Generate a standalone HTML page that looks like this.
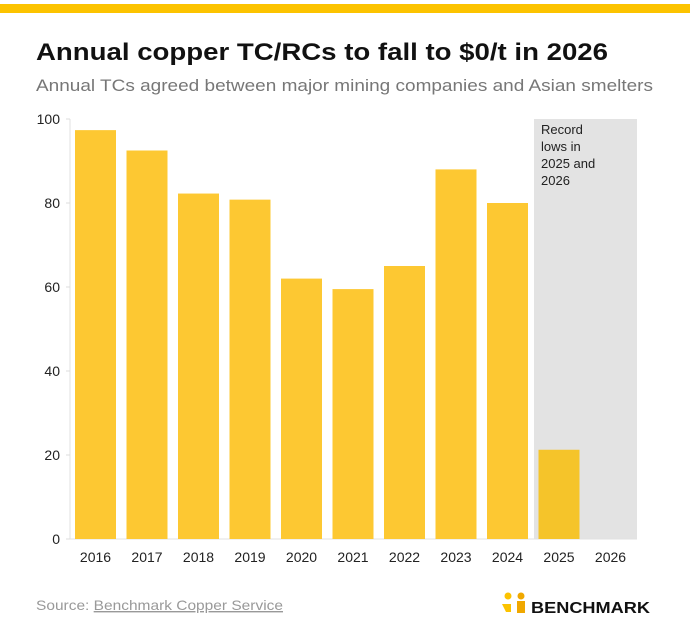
<!DOCTYPE html>
<html><head><meta charset="utf-8"><style>
body{margin:0;background:#fff;width:690px;height:637px;overflow:hidden;font-family:"Liberation Sans",sans-serif}
</style></head><body>
<svg width="690" height="637" xmlns="http://www.w3.org/2000/svg">
<rect x="0" y="4" width="690" height="9" fill="#fcc300"/>
<text x="36" y="60" font-size="24" font-weight="bold" fill="#111" textLength="572" lengthAdjust="spacingAndGlyphs">Annual copper TC/RCs to fall to $0/t in 2026</text>
<text x="36" y="91" font-size="17" fill="#777" textLength="617" lengthAdjust="spacingAndGlyphs">Annual TCs agreed between major mining companies and Asian smelters</text>
<rect x="534" y="119" width="103" height="420" fill="#e3e3e3"/>
<text font-size="13" fill="#222"><tspan x="541" y="134">Record</tspan><tspan x="541" y="151">lows in</tspan><tspan x="541" y="168">2025 and</tspan><tspan x="541" y="185">2026</tspan></text>
<line x1="70" y1="119" x2="70" y2="539" stroke="#e0e0e0"/>
<line x1="70" y1="539" x2="637" y2="539" stroke="#e0e0e0"/>
<g id="ticks"></g><g id="bars"></g><g id="xlabels"></g>
<text x="36" y="610" font-size="14" fill="#999" textLength="247" lengthAdjust="spacingAndGlyphs">Source: <tspan text-decoration="underline">Benchmark Copper Service</tspan></text>
<g>
<circle cx="508" cy="596" r="3.5" fill="#fcc300"/><circle cx="521" cy="596" r="3.5" fill="#f0a800"/>
<path d="M502 604 L511 604 L511 612 L506 612 Z" fill="#fcc300"/><rect x="517" y="601" width="8" height="12" fill="#f0a800"/>
<text x="531" y="613" font-size="16" font-weight="bold" fill="#111" textLength="119" lengthAdjust="spacingAndGlyphs">BENCHMARK</text></g>
</svg>
<script>
const categories=["2016","2017","2018","2019","2020","2021","2022","2023","2024","2025","2026"];
const values=[97.35,92.5,82.25,80.8,62,59.5,65,88,80,21.25,0];
const yTicks=[0,20,40,60,80,100];
const NS="http://www.w3.org/2000/svg";
const y=v=>539-v*4.2;
const x=i=>75+i*51.5;
const tg=document.getElementById('ticks'),bg=document.getElementById('bars'),xg=document.getElementById('xlabels');
yTicks.forEach(t=>{
 const l=document.createElementNS(NS,'line');
 l.setAttribute('x1',66);l.setAttribute('x2',70);l.setAttribute('y1',y(t));l.setAttribute('y2',y(t));l.setAttribute('stroke','#ddd');
 
 
 tg.appendChild(l);
 const s=document.createElementNS(NS,'text');
 s.setAttribute('x',60);s.setAttribute('y',y(t)+5);s.setAttribute('text-anchor','end');s.setAttribute('font-size','14');s.setAttribute('fill','#222');
 s.textContent=t;
 
 
 tg.appendChild(s);
});
categories.forEach((c,i)=>{
 const r=document.createElementNS(NS,'rect');
 r.setAttribute('x',x(i));r.setAttribute('width',41);r.setAttribute('y',y(values[i]));r.setAttribute('height',values[i]*4.2);
 r.setAttribute('fill',c==="2025"?'#f5c42a':'#fdc832');
 
 
 bg.appendChild(r);
 const s=document.createElementNS(NS,'text');
 s.setAttribute('x',x(i)+20.5);s.setAttribute('y',562);s.setAttribute('text-anchor','middle');s.setAttribute('font-size','14');s.setAttribute('fill','#222');
 s.textContent=c;
 
 
 xg.appendChild(s);
});
</script>
</body></html>
